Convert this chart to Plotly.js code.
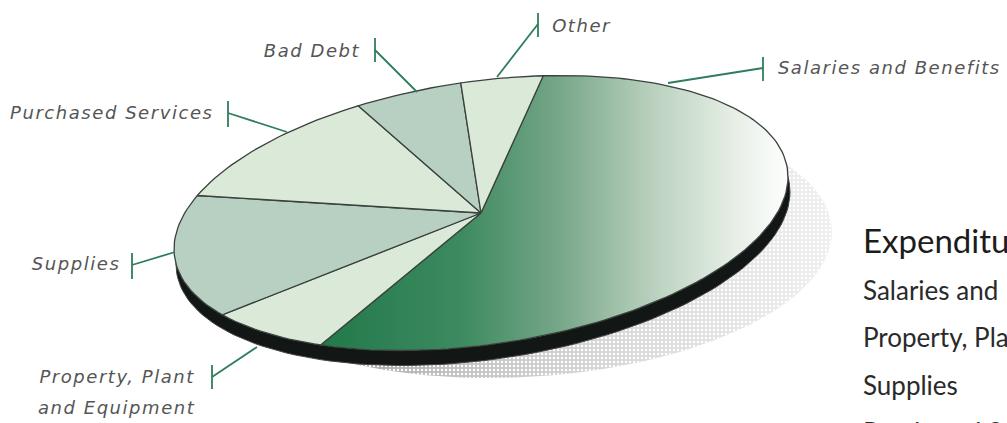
<!DOCTYPE html>
<html>
<head>
<meta charset="utf-8">
<script src="https://cdn.plot.ly/plotly-3.0.1.min.js"></script>
<style>
html,body{margin:0;padding:0;background:#fff;overflow:hidden}
#chart{width:1007px;height:423px}
.annotation[data-index="0"] text,.annotation[data-index="1"] text,.annotation[data-index="2"] text,
.annotation[data-index="3"] text,.annotation[data-index="4"] text,.annotation[data-index="5"] text,
.annotation[data-index="6"] text{letter-spacing:1.55px}
</style>
</head>
<body>
<div id="chart"></div>
<script>
// Data (percent of expenditures, clockwise from the top of the pie)
const categories = ['Salaries and Benefits','Property, Plant and Equipment','Supplies','Purchased Services','Bad Debt','Other'];
const values = [55.5, 7.2, 15.3, 12.2, 5.5, 4.3];
// The table at the right is cut by the picture's edge: only what is visible
const tableTitle = 'Expenditu';
const tableRows = ['Salaries and','Property, Pla','Supplies','Purchased S'];

const sliceColors = [null,'#dae9d8','#b7d0c1','#dae9d8','#b7d0c1','#dae9d8'];

// Tilted-ellipse projection of the pie, in page-pixel axis units
const pie = {cx:481, cy:213, rx:307, ry:137.5, rho:0.262, startDeg:78.3};
function project(deg, e){
  const t = deg*Math.PI/180;
  return [e.cx + e.rx*Math.cos(t),
          e.cy - e.ry*(e.rho*Math.cos(t) + Math.sqrt(1-e.rho*e.rho)*Math.sin(t))];
}
function ellipsePath(e){
  const xs=[],ys=[];
  for(let d=0;d<=360;d+=2){const p=project(d,e);xs.push(p[0]);ys.push(p[1]);}
  return {x:xs,y:ys};
}
const traces=[];
const base={mode:'lines',hoverinfo:'skip',showlegend:false,type:'scatter',fill:'toself'};

// drop shadow
const sh = {cx:520, cy:245, rx:312, ry:133, rho:0.1};
traces.push(Object.assign({},base,ellipsePath(sh),{line:{width:0},
  fillgradient:{type:'horizontal',start:320,stop:832,
    colorscale:[[0,'#a2a2a2'],[0.3,'#c4c4c4'],[0.6,'#d8d8d8'],[1,'#efefef']]}}));
traces.push(Object.assign({},base,ellipsePath(sh),{line:{width:0},fillcolor:'rgba(0,0,0,0)',
  fillpattern:{shape:'.',size:4,solidity:0.3,fgcolor:'#ffffff',bgcolor:'rgba(0,0,0,0)'}}));

// black rim
const rim = Object.assign({},pie,{cx:pie.cx+2,cy:pie.cy+15});
traces.push(Object.assign({},base,ellipsePath(rim),{line:{width:1,color:'#444'},fillcolor:'#121614'}));
traces.push(Object.assign({},base,ellipsePath(pie),{line:{width:0},fillcolor:'#ffffff'}));

// slices
const total = values.reduce((a,b)=>a+b,0);
let angle = pie.startDeg;
values.forEach((v,i)=>{
  const sweep = v/total*360, xs=[pie.cx], ys=[pie.cy];
  const n = Math.ceil(sweep/1.5);
  for(let k=0;k<=n;k++){
    const p=project(angle - sweep*k/n, pie);
    xs.push(p[0]);ys.push(p[1]);
  }
  xs.push(pie.cx);ys.push(pie.cy);
  const tr = Object.assign({},base,{x:xs,y:ys,name:categories[i],line:{width:1.3,color:'#3a423d'}});
  if(i===0){
    tr.fillgradient={type:'horizontal',start:320,stop:790,
      colorscale:[[0,'#22794a'],[0.3,'#3d8a60'],[0.5,'#74a587'],[0.72,'#bdd3c1'],[0.88,'#e6eee5'],[1,'#ffffff']]};
  } else {
    tr.fillcolor = sliceColors[i];
  }
  traces.push(tr);
  angle -= sweep;
});

// call-outs: leader line from the pie to a short vertical bar, then the label
const callouts = [
  {from:[668,83], to:[763,68], bar:[57,81]},
  {from:[257,347], to:[212,377], bar:[365,389]},
  {from:[175,252], to:[132,265], bar:[253,279]},
  {from:[287,132], to:[228,113], bar:[101,127]},
  {from:[417,92], to:[375,50], bar:[38,62]},
  {from:[497,77], to:[538,24], bar:[13,37]}
];
const labels = [
  {text:'Salaries and Benefits', tx:777, ty:67, anchor:'left'},
  {text:'Property, Plant', tx:197, ty:376, anchor:'right'},
  {text:'and Equipment', tx:197, ty:407, anchor:'right'},
  {text:'Supplies', tx:121, ty:263, anchor:'right'},
  {text:'Purchased Services', tx:215, ty:112, anchor:'right'},
  {text:'Bad Debt', tx:362, ty:50, anchor:'right'},
  {text:'Other', tx:551, ty:25, anchor:'left'}
];
const spacing = 1.55;
const shapes=[], annotations=[];
const lead={color:'#2f7d5c',width:1.8};
callouts.forEach(c=>{
  shapes.push({type:'line',xref:'x',yref:'y',x0:c.from[0],y0:c.from[1],x1:c.to[0],y1:c.to[1],line:lead});
  shapes.push({type:'line',xref:'x',yref:'y',x0:c.to[0],y0:c.bar[0],x1:c.to[0],y1:c.bar[1],line:lead});
});
labels.forEach(c=>{
  // the library measures text without letter-spacing, so offset by half of the added width
  const extra = c.text.length*spacing/2;
  annotations.push({xref:'x',yref:'y',x:c.tx+(c.anchor==='right'?-extra:extra),y:c.ty,text:'<i>'+c.text+'</i>',showarrow:false,
    xanchor:c.anchor,yanchor:'middle',
    font:{family:'"DejaVu Sans"',size:18,color:'#555'},borderpad:0});
});

// table at the right edge
annotations.push({xref:'x',yref:'y',x:862,y:240,text:tableTitle,showarrow:false,xanchor:'left',yanchor:'middle',
  font:{family:'Lato',size:33,color:'#1c1c1c'},borderpad:0});
const rowY=[290,337,385,431.5];
tableRows.forEach((r,i)=>{
  const off = rowY[i]>420;
  annotations.push({xref:'x',yref:'y',x:862,y:off?420:rowY[i],yshift:off?-(rowY[i]-420):0,text:r,showarrow:false,xanchor:'left',yanchor:'middle',
    font:{family:'Lato',size:26,color:'#2a2a2a'},borderpad:0});
});

Plotly.newPlot('chart',traces,{
  width:1007,height:423,
  margin:{l:0,r:0,t:0,b:0},
  paper_bgcolor:'#fff',plot_bgcolor:'#fff',
  xaxis:{range:[0,1007],visible:false,fixedrange:true},
  yaxis:{range:[423,0],visible:false,fixedrange:true},
  showlegend:false,shapes,annotations,hovermode:false
},{displayModeBar:false,staticPlot:true});
</script>
</body>
</html>
